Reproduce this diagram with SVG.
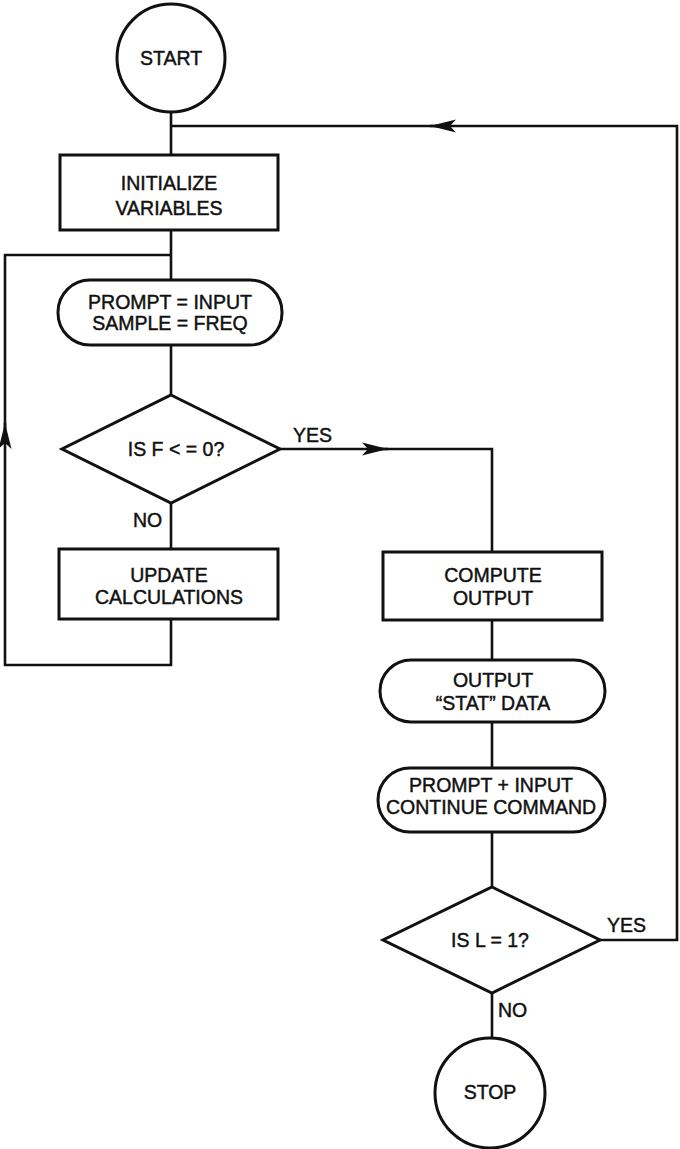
<svg xmlns="http://www.w3.org/2000/svg" width="680" height="1149" viewBox="0 0 680 1149">
<style>
.s{fill:#fff;stroke:#111;stroke-width:3}
.c{fill:none;stroke:#111;stroke-width:2.6}
text{font-family:"Liberation Sans",Arial,sans-serif;font-size:19.5px;fill:#111;stroke:#111;stroke-width:0.45;text-anchor:middle}
.l{text-anchor:start}
</style>
<defs>
<marker id="ah" markerUnits="userSpaceOnUse" markerWidth="30" markerHeight="16" refX="26" refY="7" viewBox="0 0 30 14" orient="auto">
<path d="M0,0.5 L26,7 L0,13.5 L6,7 Z" fill="#111"/>
</marker>
</defs>
<rect width="680" height="1149" fill="#fff"/>
<g id="connectors">
<path class="c" d="M171,112 V155"/>
<path class="c" d="M171,230 V280"/>
<path class="c" d="M171,345 V395"/>
<path class="c" d="M171,503 V549"/>
<path class="c" d="M171,619 V665 H5 V423" marker-end="url(#ah)"/>
<path class="c" d="M5,430 V255 H171"/>
<path class="c" d="M280,449 H388" marker-end="url(#ah)"/>
<path class="c" d="M380,449 H492 V552"/>
<path class="c" d="M492,620 V660"/>
<path class="c" d="M492,722 V768"/>
<path class="c" d="M492,832 V887"/>
<path class="c" d="M492,993 V1038"/>
<path class="c" d="M600,940 H677 V126 H430" marker-end="url(#ah)"/>
<path class="c" d="M437,126 H171"/>
<text class="l" x="293" y="442">YES</text>
<text class="l" x="133" y="527">NO</text>
<text class="l" x="607" y="932">YES</text>
<text class="l" x="498" y="1017">NO</text>
</g>
<g id="start">
<circle class="s" cx="171" cy="58" r="54"/>
<text x="171" y="65">START</text>
</g>
<g id="init">
<rect class="s" x="60" y="155" width="218" height="75"/>
<text x="169" y="190">INITIALIZE</text>
<text x="169" y="215">VARIABLES</text>
</g>
<g id="prompt">
<rect class="s" x="58" y="280" width="224" height="65" rx="32" ry="32"/>
<text x="170" y="309">PROMPT = INPUT</text>
<text x="170" y="330">SAMPLE = FREQ</text>
</g>
<g id="decision1">
<polygon class="s" points="171,395 280,449 171,503 62,449"/>
<text x="176" y="456">IS F &lt; = 0?</text>
</g>
<g id="update">
<rect class="s" x="59" y="549" width="219" height="70"/>
<text x="169" y="582">UPDATE</text>
<text x="169" y="604">CALCULATIONS</text>
</g>
<g id="compute">
<rect class="s" x="383" y="552" width="219" height="68"/>
<text x="493" y="582">COMPUTE</text>
<text x="493" y="605">OUTPUT</text>
</g>
<g id="output">
<rect class="s" x="380" y="660" width="225" height="62" rx="31" ry="31"/>
<text x="493" y="687">OUTPUT</text>
<text x="493" y="710">“STAT” DATA</text>
</g>
<g id="continue">
<rect class="s" x="378" y="768" width="227" height="64" rx="32" ry="32"/>
<text x="491" y="792">PROMPT + INPUT</text>
<text x="491" y="814">CONTINUE COMMAND</text>
</g>
<g id="decision2">
<polygon class="s" points="492,887 600,940 492,993 383,940"/>
<text x="490" y="947">IS L = 1?</text>
</g>
<g id="stop">
<circle class="s" cx="490" cy="1093" r="55"/>
<text x="490" y="1099">STOP</text>
</g>
</svg>
